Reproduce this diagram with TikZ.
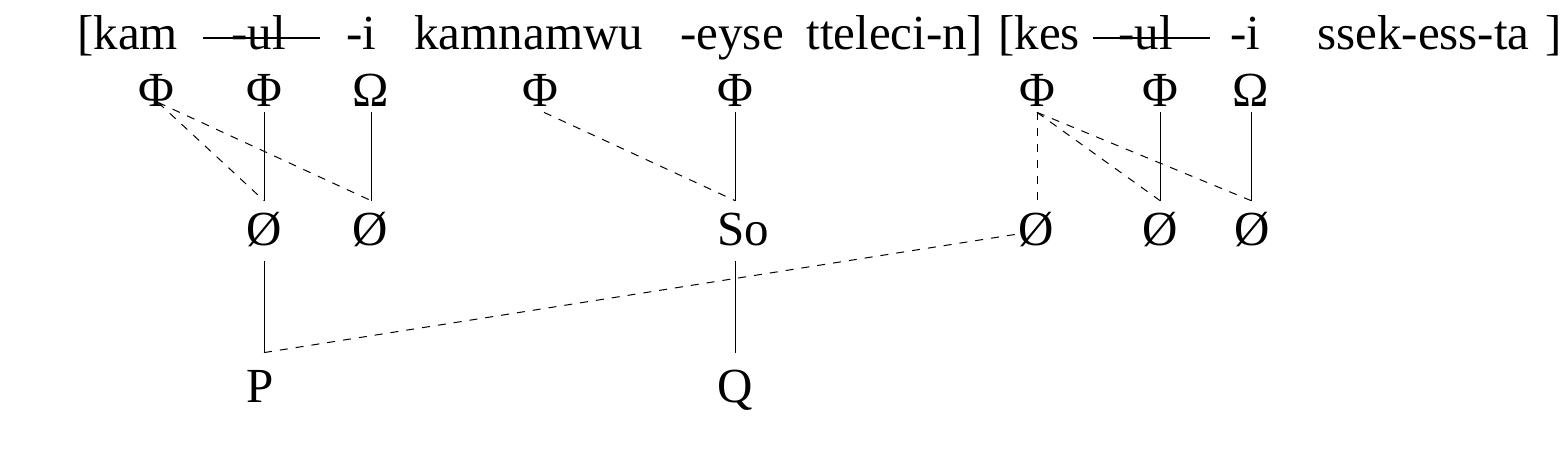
\documentclass[tikz,border=0pt]{standalone}
\usepackage{fontspec}
\setmainfont{Liberation Serif}
\usepackage{tikz}
\begin{document}
\begin{tikzpicture}[x=0.5pt,y=-0.5pt]

\tikzset{word/.style = {anchor=base west,inner sep=0pt,font=\fontsize{24.5}{28}\selectfont}}
\tikzset{sym/.style = {anchor=base,inner sep=0pt,text depth=2.5pt,font=\fontsize{24.5}{28}\selectfont}}
\tikzset{mid/.style = {sym,text height=22.5pt,text depth=7.5pt}}
\tikzset{low/.style = {sym,text height=25pt}}
\tikzset{edge/.style = {-,line width=0.5pt}}
\tikzset{link/.style = {edge,dash pattern=on 4pt off 4pt}}
\tikzset{strike/.style = {-,line width=1.4pt}}

\useasboundingbox (0,0) rectangle (1564,464);

%words
\node[word] (kam) at (77,50) {[kam};
\node[word] (ula) at (231,50) {-ul};
\node[word] (ia) at (346,50) {-i};
\node[word] (kamnamwu) at (414,50) {kamnamwu};
\node[word] (eyse) at (680,50) {-eyse};
\node[word] (tteleci) at (806,50) {tteleci-n]};
\node[word] (kes) at (998,50) {[kes};
\node[word] (ulb) at (1118,50) {-ul};
\node[word] (ib) at (1230,50) {-i};
\node[word] (ssek) at (1317,50) {ssek-ess-ta};
\node[word] (close) at (1545,50) {]};
\coordinate (sa1) at (203,38);
\coordinate (sa2) at (320,38);
\coordinate (sb1) at (1093,38);
\coordinate (sb2) at (1210,38);

%symbols
\node[sym] (phia) at (156,107) {Φ};
\node[sym] (phib) at (264,107) {Φ};
\node[sym] (omegaa) at (371,107) {Ω};
\node[sym] (phic) at (540,107) {Φ};
\node[sym] (phid) at (735,107) {Φ};
\node[sym] (phie) at (1037,107) {Φ};
\node[sym] (phif) at (1160,107) {Φ};
\node[sym] (omegab) at (1251,107) {Ω};
\node[mid] (nulla) at (264,246) {Ø};
\node[mid] (nullb) at (370,246) {Ø};
\node[mid] (so) at (743,246) {So};
\node[mid] (nullc) at (1036,246) {Ø};
\node[mid] (nulld) at (1160,246) {Ø};
\node[mid] (nulle) at (1252,246) {Ø};
\node[low] (p) at (260,403) {P};
\node[low] (q) at (735,403) {Q};

%edges
\draw[strike] (sa1) to (sa2);
\draw[strike] (sb1) to (sb2);
\draw[edge] (phib.south) to (phib.south |- nulla.north);
\draw[edge] (omegaa.south) to (omegaa.south |- nullb.north);
\draw[link] ([shift={(1pt,5pt)}]phia.south) to (phib.south |- nulla.north);
\draw[link] ([shift={(1pt,5pt)}]phia.south) to (omegaa.south |- nullb.north);
\draw[link] ([xshift=2pt]phic.south) to (phid.south |- so.north);
\draw[edge] (phid.south) to (phid.south |- so.north);
\draw[link] (phie.south) to (phie.south |- nullc.north);
\draw[link] (phie.south) to (phif.south |- nulld.north);
\draw[link] (phie.south) to (omegab.south |- nulle.north);
\draw[edge] (phif.south) to (phif.south |- nulld.north);
\draw[edge] (omegab.south) to (omegab.south |- nulle.north);
\draw[edge] (nulla.south) to (nulla.south |- p.north);
\draw[link] (nulla.south |- p.north) to ([yshift=-1.5pt]nullc.west);
\draw[edge] (q.north |- so.south) to (q.north);
\end{tikzpicture}
\end{document}
